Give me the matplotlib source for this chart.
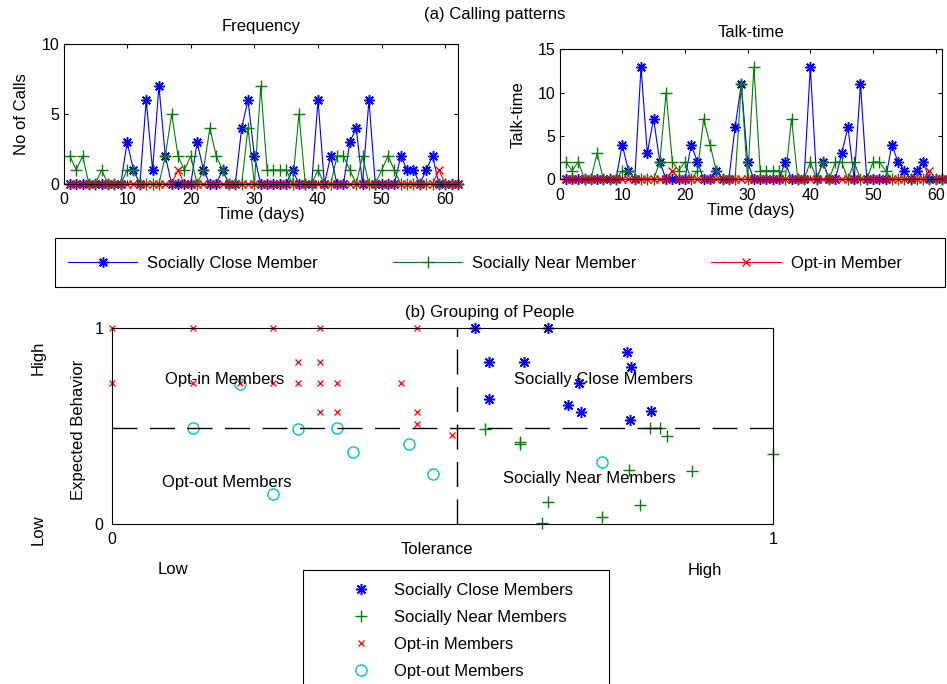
import numpy as np
import matplotlib
matplotlib.use("Agg")
import matplotlib.pyplot as plt
from matplotlib.patches import Rectangle

plt.rcParams['font.family'] = ['Liberation Sans', 'DejaVu Sans']
plt.rcParams['font.size'] = 12
plt.rcParams['axes.titlesize'] = 12
plt.rcParams['xtick.labelsize'] = 11.5
plt.rcParams['ytick.labelsize'] = 11.5
plt.rcParams['axes.linewidth'] = 0.8

# ---- (a) calling patterns: one value per day ----
days = np.arange(1, 63)

freq_close = [0, 0, 0, 0, 0, 0, 0, 0, 0, 3,
              1, 0, 6, 1, 7, 2, 0, 0, 0, 0,
              3, 1, 0, 0, 1, 0, 0, 4, 6, 2,
              0, 0, 0, 0, 0, 1, 0, 0, 0, 6,
              0, 2, 0, 0, 3, 4, 0, 6, 0, 0,
              0, 0, 2, 1, 1, 0, 1, 2, 0, 0,
              0, 0]
freq_near = [2, 1, 2, 0, 0, 1, 0, 0, 0, 1,
             1, 0, 0, 0, 0, 2, 5, 2, 1, 2,
             0, 1, 4, 2, 1, 0, 0, 0, 4, 0,
             7, 1, 1, 1, 1, 0, 5, 0, 0, 1,
             0, 0, 2, 2, 1, 0, 2, 0, 0, 1,
             2, 1, 0, 0, 0, 0, 0, 0, 0, 0,
             0, 0]
freq_optin = [0, 0, 0, 0, 0, 0, 0, 0, 0, 0,
              0, 0, 0, 0, 0, 0, 0, 1, 0, 0,
              0, 0, 0, 0, 0, 0, 0, 0, 0, 0,
              0, 0, 0, 0, 0, 0, 0, 0, 0, 0,
              0, 0, 0, 0, 0, 0, 0, 0, 0, 0,
              0, 0, 0, 0, 0, 0, 0, 0, 1, 0,
              0, 0]

talk_close = [0, 0, 0, 0, 0, 0, 0, 0, 0, 4,
              1, 0, 13, 3, 7, 2, 0, 0, 0, 0,
              4, 2, 0, 0, 1, 0, 0, 6, 11, 2,
              0, 0, 0, 0, 0, 2, 0, 0, 0, 13,
              0, 2, 0, 0, 3, 6, 0, 11, 0, 0,
              0, 0, 4, 2, 1, 0, 1, 2, 0, 0,
              0, 0]
talk_near = [2, 1, 2, 0, 0, 3, 0, 0, 0, 1,
             1, 0, 0, 0, 0, 2, 10, 2, 1, 2,
             0, 1, 7, 4, 1, 0, 0, 0, 11, 0,
             13, 1, 1, 1, 1, 0, 7, 0, 0, 2,
             0, 2, 0, 2, 2, 0, 2, 0, 0, 2,
             2, 1, 0, 0, 0, 0, 0, 0, 0, 0,
             0, 0]
talk_optin = [0, 0, 0, 0, 0, 0, 0, 0, 0, 0,
              0, 0, 0, 0, 0, 0, 0, 1, 0, 0,
              0, 0, 0, 0, 0, 0, 0, 0, 0, 0,
              0, 0, 0, 0, 0, 0, 0, 0, 0, 0,
              0, 0, 0, 0, 0, 0, 0, 0, 0, 0,
              0, 0, 0, 0, 0, 0, 0, 0, 1, 0,
              0, 0]

series_labels = ["Socially Close Member", "Socially Near Member", "Opt-in Member"]

# ---- (b) grouping of people: (tolerance, expected behaviour) ----
close_x = [0.549, 0.659, 0.571, 0.623, 0.779, 0.785, 0.707, 0.571, 0.690, 0.709, 0.784, 0.815]
close_y = [1.0, 1.0, 0.828, 0.828, 0.879, 0.803, 0.718, 0.638, 0.607, 0.573, 0.531, 0.578]

near_x = [0.564, 0.618, 0.618, 0.814, 0.829, 0.839, 1.0, 0.782, 0.877, 0.659, 0.799, 0.741, 0.650]
near_y = [0.483, 0.420, 0.408, 0.488, 0.488, 0.449, 0.357, 0.276, 0.272, 0.114, 0.097, 0.037, 0.003]

optin_x = [0.0, 0.123, 0.243, 0.315, 0.462, 0.0, 0.123, 0.193, 0.243, 0.282,
           0.315, 0.282, 0.315, 0.340, 0.437, 0.315, 0.340, 0.462, 0.462, 0.515]
optin_y = [1.0, 1.0, 1.0, 1.0, 1.0, 0.718, 0.718, 0.718, 0.718, 0.828,
           0.828, 0.718, 0.718, 0.718, 0.718, 0.573, 0.573, 0.573, 0.510, 0.454]

optout_x = [0.193, 0.123, 0.282, 0.340, 0.365, 0.450, 0.486, 0.243, 0.741]
optout_y = [0.714, 0.488, 0.483, 0.488, 0.369, 0.408, 0.253, 0.153, 0.315]

group_labels = ["Socially Close Members", "Socially Near Members",
                "Opt-in Members", "Opt-out Members"]

tolerance_split = 0.522
behaviour_split = 0.49

BLUE = (0, 0, 1)
GREEN = (0, 0.5, 0)
RED = (1, 0, 0)
CYAN = (0, 0.75, 0.75)
ASTERISK = (8, 2, 0)

W, H = 947, 684


def fx(px):
    return px / W


def fy(py):
    return 1 - py / H


fig = plt.figure(figsize=(W / 100, H / 100), dpi=100)

ax1 = fig.add_axes([fx(63.5), fy(184), (458 - 63.5) / W, (184 - 44) / H])
ax2 = fig.add_axes([fx(559.5), fy(179.3), (942 - 559.5) / W, (179.3 - 49.3) / H])
ax3 = fig.add_axes([fx(112), fy(524), 661 / W, 196 / H])

top_sets = [
    (ax1, freq_close, freq_near, freq_optin, "Frequency", "No of Calls", (0, 62), (0, 10), [0, 5, 10]),
    (ax2, talk_close, talk_near, talk_optin, "Talk-time", "Talk-time", (0, 61), (0, 15), [0, 5, 10, 15]),
]
line_handles = None
for ax, c, n, o, title, ylab, xl, yl, yt in top_sets:
    h1, = ax.plot(days, c, color=BLUE, lw=0.8, marker=ASTERISK, ms=7.5, mew=1.1, clip_on=False)
    h2, = ax.plot(days, n, color=GREEN, lw=0.8, marker='+', ms=8, mew=1.0, clip_on=False)
    h3, = ax.plot(days, o, color=RED, lw=0.8, marker='x', ms=6, mew=1.0, clip_on=False)
    if line_handles is None:
        line_handles = [h1, h2, h3]
    ax.set_xlim(*xl)
    ax.set_ylim(*yl)
    ax.set_xticks(np.arange(0, 61, 10))
    ax.set_yticks(yt)
    ax.tick_params(direction='in', top=True, right=True, length=3, width=0.8, pad=3)
    ax.tick_params(axis='x', pad=6)
    ax.set_title(title, pad=9)
    ax.set_xlabel("Time (days)", labelpad=0)
    ax.set_ylabel(ylab)
    ax.yaxis.set_label_coords(-0.088, 0.5)

fig.text(fx(495), fy(14), "(a) Calling patterns", ha='center', va='center')

leg1 = fig.legend(line_handles, series_labels, loc='center left',
                  bbox_to_anchor=(fx(68), fy(263)), ncol=3, frameon=False,
                  handlelength=4.15, handletextpad=0.6, columnspacing=4.5,
                  borderpad=0, borderaxespad=0, numpoints=1)
fig.add_artist(Rectangle((fx(55), fy(287)), (945 - 55) / W, (287 - 238) / H,
                         transform=fig.transFigure, fill=False, lw=0.8, ec='k'))

# ---- bottom panel ----
s1, = ax3.plot(close_x, close_y, ls='none', color=BLUE, marker=ASTERISK, ms=8, mew=1.1, clip_on=False)
s2, = ax3.plot(near_x, near_y, ls='none', color=GREEN, marker='+', ms=9, mew=1.0, clip_on=False)
s3, = ax3.plot(optin_x, optin_y, ls='none', color=RED, marker='x', ms=4.5, mew=0.9, clip_on=False)
s4, = ax3.plot(optout_x, optout_y, ls='none', color=CYAN, marker='o', ms=8, mfc='none',
               mew=1.0, clip_on=False)

ax3.axhline(behaviour_split, color='k', lw=1.0, dashes=(18, 9), clip_on=False)
ax3.axvline(tolerance_split, color='k', lw=1.0, dashes=(18, 9), clip_on=False)

ax3.set_xlim(0, 1)
ax3.set_ylim(0, 1)
ax3.set_xticks([0, 1])
ax3.set_yticks([0, 1])
ax3.tick_params(length=0, pad=6)
ax3.set_xlabel("Tolerance")
ax3.xaxis.set_label_coords(0.492, -0.092)
ax3.set_ylabel("Expected Behavior")
ax3.yaxis.set_label_coords(-0.039, 0.48)

ax3.text(0.080, 0.735, "Opt-in Members", ha='left', va='center')
ax3.text(0.608, 0.735, "Socially Close Members", ha='left', va='center')
ax3.text(0.076, 0.214, "Opt-out Members", ha='left', va='center')
ax3.text(0.592, 0.230, "Socially Near Members", ha='left', va='center')

fig.text(fx(490), fy(313), "(b) Grouping of People", ha='center', va='center')
fig.text(fx(38), fy(358), "High", rotation=90, ha='center', va='center')
fig.text(fx(38), fy(530), "Low", rotation=90, ha='center', va='center')
fig.text(fx(173), fy(570), "Low", ha='center', va='center')
fig.text(fx(705), fy(570), "High", ha='center', va='center')

leg2 = fig.legend([s1, s2, s3, s4], group_labels, loc='upper left',
                  bbox_to_anchor=(fx(341), fy(583)), frameon=False,
                  handlelength=2.4, handletextpad=0.8, labelspacing=0.72,
                  borderpad=0, borderaxespad=0, numpoints=1)
fig.add_artist(Rectangle((fx(303), fy(700)), (609 - 303) / W, (700 - 570) / H,
                         transform=fig.transFigure, fill=False, lw=0.8, ec='k'))

fig.savefig("out.png", dpi=100)
